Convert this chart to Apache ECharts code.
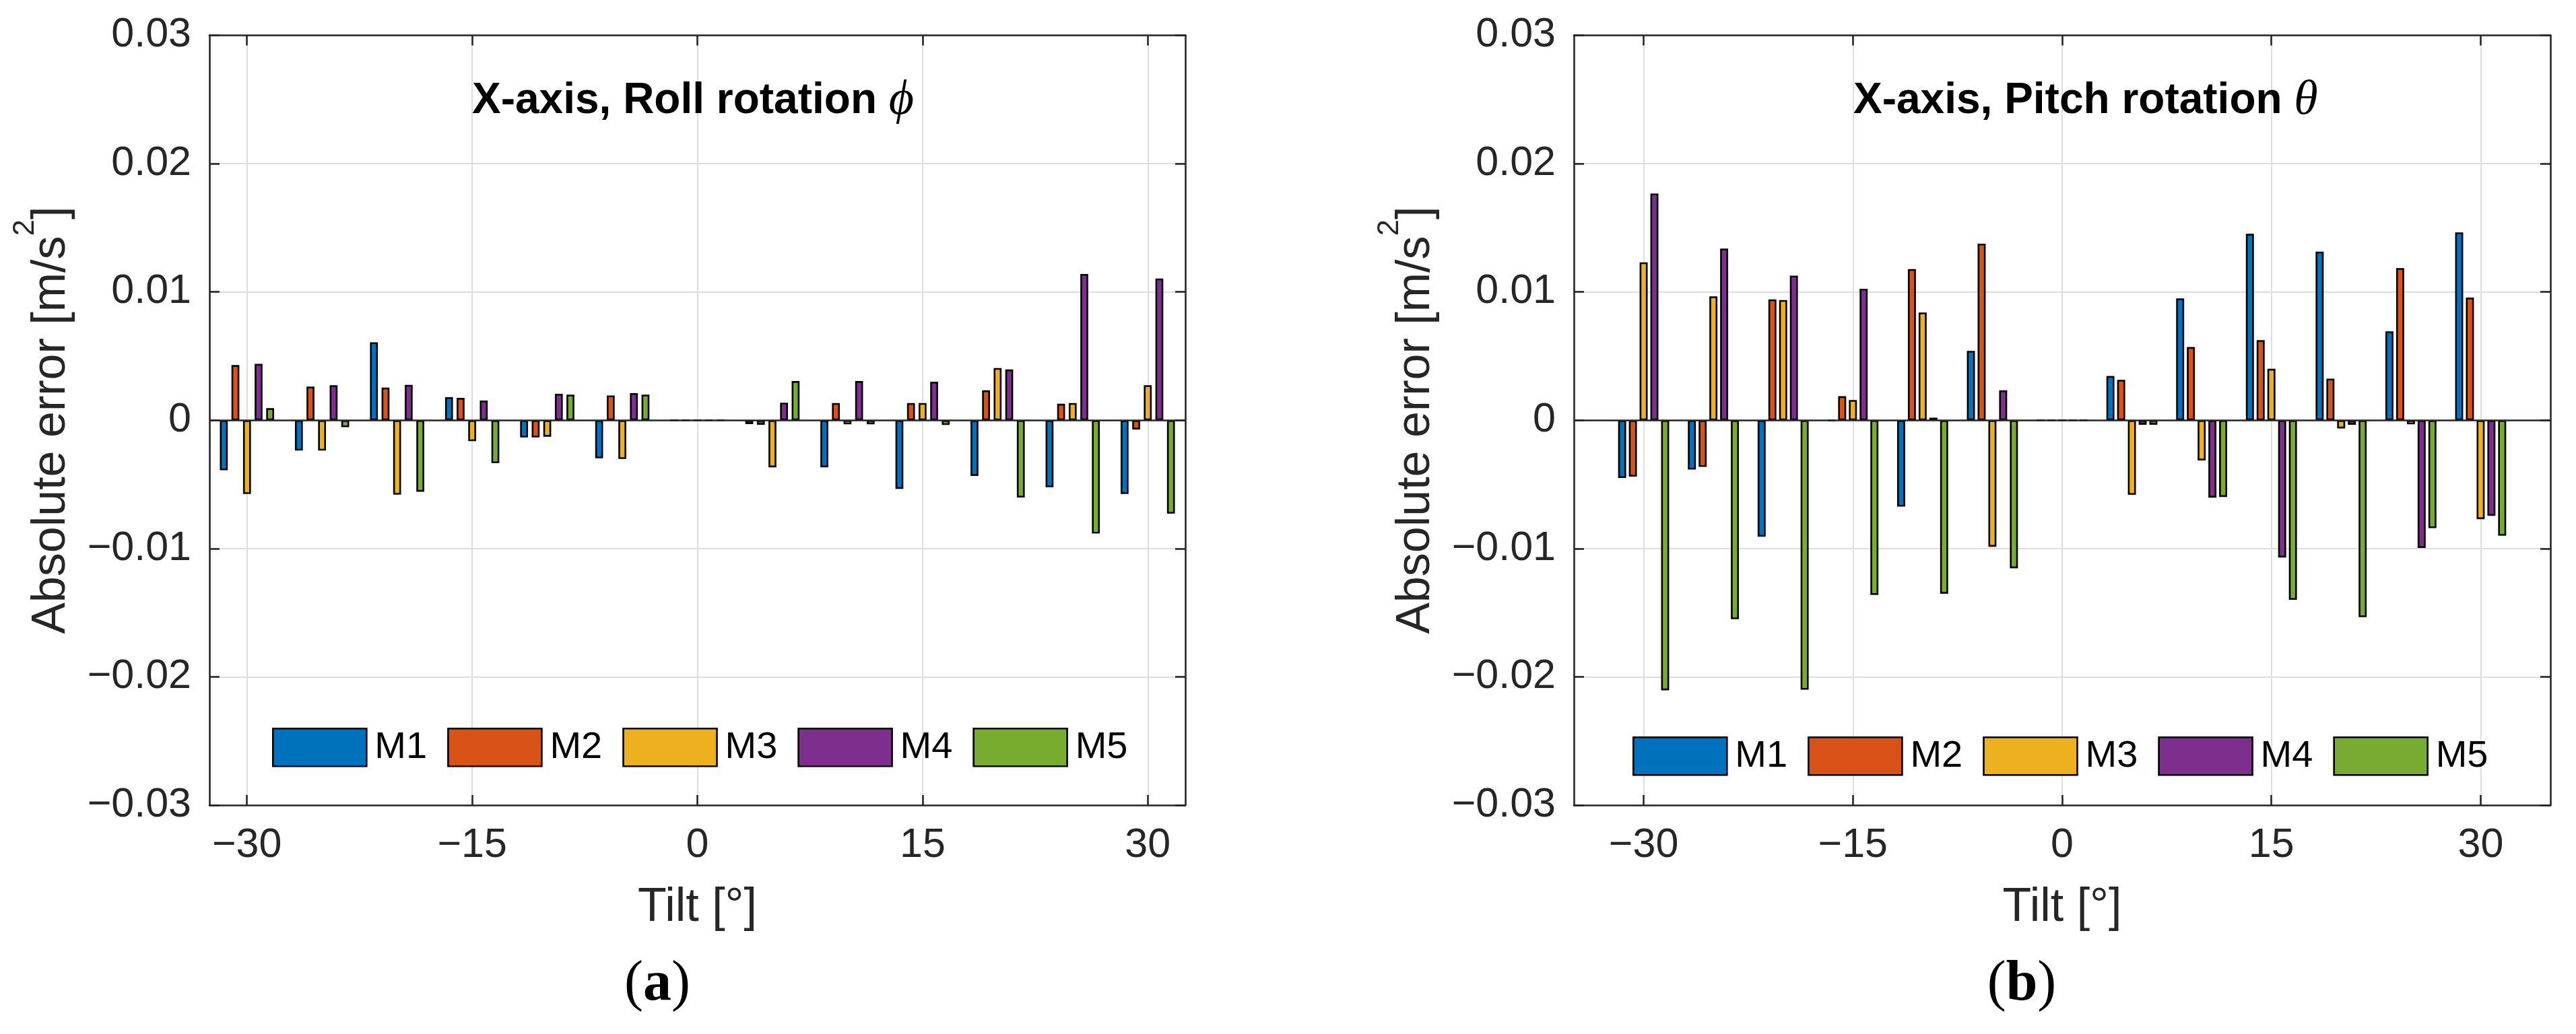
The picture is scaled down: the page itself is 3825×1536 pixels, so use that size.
<!DOCTYPE html>
<html><head><meta charset="utf-8">
<script src="https://cdn.jsdelivr.net/npm/echarts@6/dist/echarts.min.js"></script>
<style>html,body{margin:0;padding:0;background:#fff}#c{width:3825px;height:1536px}</style>
</head><body><div id="c"></div>
<script>
// ---- data ----
const seriesNames = ['M1', 'M2', 'M3', 'M4', 'M5'];
const tiltRoll = [-30, -25, -20, -15, -10, -5, 0, 5, 10, 15, 20, 25, 30];
const tiltPitch = [-30, -25, -20, -15, -10, -5, 0, 5, 10, 15, 20, 25, 30];
const xTickValues = [-30, -15, 0, 15, 30];

const rollM1 = [-0.0039, -0.00236, 0.00608, 0.0018, -0.00134, -0.00297, 0, -0.0003, -0.00367, -0.00535, -0.00434, -0.00522, -0.00575];
const rollM2 = [0.0043, 0.00262, 0.00254, 0.00174, -0.00134, 0.00193, 0, -0.00035, 0.00134, 0.00134, 0.00233, 0.00128, -0.00072];
const rollM3 = [-0.00575, -0.00236, -0.0058, -0.00163, -0.00128, -0.00302, 0, -0.00367, -0.00032, 0.00134, 0.00407, 0.00134, 0.00273];
const rollM4 = [0.0044, 0.00273, 0.00276, 0.00153, 0.00206, 0.00211, 0, 0.00137, 0.00305, 0.003, 0.00396, 0.0114, 0.01105];
const rollM5 = [0.00094, -0.00054, -0.00557, -0.00335, 0.002, 0.002, 0, 0.00305, -0.00032, -0.00037, -0.00602, -0.00883, -0.00728];

const pitchM1 = [-0.0045, -0.00385, -0.00908, -0.00005, -0.00673, 0.00541, 0, 0.00345, 0.0095, 0.01453, 0.01314, 0.00693, 0.01464];
const pitchM2 = [-0.00439, -0.00364, 0.00942, 0.00187, 0.01178, 0.01376, 0, 0.00315, 0.0057, 0.00624, 0.00324, 0.01186, 0.00956];
const pitchM3 = [0.01231, 0.00966, 0.00937, 0.00158, 0.0084, -0.00986, 0, -0.00581, -0.00313, 0.00401, -0.00064, -0.00032, -0.00771];
const pitchM4 = [0.01767, 0.01338, 0.01127, 0.01025, 0.0002, 0.00233, 0, -0.00035, -0.00603, -0.0107, -0.00035, -0.00995, -0.00745];
const pitchM5 = [-0.02105, -0.01551, -0.021, -0.01361, -0.01353, -0.01154, 0, -0.00035, -0.00598, -0.014, -0.01535, -0.00841, -0.009];

// ---- style ----
const colors = ['#0072BD', '#D95319', '#EDB120', '#7E2F8E', '#77AC30'];
const SANS = "'Liberation Sans', Arial, sans-serif";
const SERIF = "'Liberation Serif', 'DejaVu Serif', serif";
const AX = '#262626';
const GRIDC = '#dedede';

function fmtY(v) {
  if (Math.abs(v) < 1e-9) return '0';
  return (v < 0 ? '\u2212' : '') + Math.abs(v).toFixed(2);
}
function fmtX(v) {
  if (Math.abs(v) < 1e-9) return '0';
  return (v < 0 ? '\u2212' : '') + Math.abs(v);
}

const grids = [
  { left: 311, top: 52.5, width: 1449, height: 1143.5 },
  { left: 2337, top: 52.5, width: 1450, height: 1143.5 }
];
const xRanges = [[-32.5, 32.5], [-35, 35]];

const xAxes = [], yAxes = [];
[0, 1].forEach(g => {
  xAxes.push({
    gridIndex: g, type: 'value', position: 'bottom', min: xRanges[g][0], max: xRanges[g][1],
    axisLine: { show: true, onZero: false, lineStyle: { color: AX, width: 2.6 } },
    axisTick: { show: true, inside: true, length: 15, customValues: xTickValues, lineStyle: { color: AX, width: 2.6 } },
    axisLabel: { show: true, customValues: xTickValues, formatter: fmtX, fontSize: 61, fontFamily: SANS, color: AX, margin: 30 },
    splitLine: { show: true, lineStyle: { color: GRIDC, width: 2 } },
    name: 'Tilt [\u00b0]', nameLocation: 'middle', nameGap: 118,
    nameTextStyle: { fontSize: 70, fontFamily: SANS, color: AX }
  });
  xAxes.push({
    gridIndex: g, type: 'value', position: 'top', min: xRanges[g][0], max: xRanges[g][1],
    axisLine: { show: true, onZero: false, lineStyle: { color: AX, width: 2.6 } },
    axisTick: { show: true, inside: true, length: 15, customValues: xTickValues, lineStyle: { color: AX, width: 2.6 } },
    axisLabel: { show: false },
    splitLine: { show: false }
  });
  yAxes.push({
    gridIndex: g, type: 'value', position: 'left', min: -0.03, max: 0.03, interval: 0.01,
    axisLine: { show: true, onZero: false, lineStyle: { color: AX, width: 2.6 } },
    axisTick: { show: true, inside: true, length: 15, lineStyle: { color: AX, width: 2.6 } },
    axisLabel: { formatter: fmtY, fontSize: 61, fontFamily: SANS, color: AX, margin: 27 },
    splitLine: { show: true, lineStyle: { color: GRIDC, width: 2 } },
    name: '{a|Absolute error [m/s}{s|2}{a|]}', nameLocation: 'middle', nameGap: 199,
    nameTextStyle: {
      fontSize: 70, fontFamily: SANS, color: AX,
      rich: {
        a: { fontSize: 70, fontFamily: SANS, color: AX, lineHeight: 96, verticalAlign: 'bottom' },
        s: { fontSize: 44, fontFamily: SANS, color: AX, lineHeight: 96, verticalAlign: 'top' }
      }
    }
  });
  yAxes.push({
    gridIndex: g, type: 'value', position: 'right', min: -0.03, max: 0.03, interval: 0.01,
    axisLine: { show: true, onZero: false, lineStyle: { color: AX, width: 2.6 } },
    axisTick: { show: true, inside: true, length: 15, lineStyle: { color: AX, width: 2.6 } },
    axisLabel: { show: false },
    splitLine: { show: false }
  });
});

const rollData = [rollM1, rollM2, rollM3, rollM4, rollM5];
const pitchData = [pitchM1, pitchM2, pitchM3, pitchM4, pitchM5];

const series = [];
function addSeries(g, tilts, dataSets, widthPct, gapPct) {
  dataSets.forEach((vals, i) => {
    const s = {
      type: 'bar', name: seriesNames[i],
      xAxisIndex: 2 * g, yAxisIndex: 2 * g,
      data: tilts.map((t, k) => [t, vals[k]]),
      barWidth: widthPct, barGap: gapPct,
      itemStyle: { color: colors[i], borderColor: '#000', borderWidth: 2.6 },
      emphasis: { disabled: true },
      clip: true
    };
    if (i === 0) {
      s.markLine = {
        silent: true, symbol: 'none', label: { show: false },
        lineStyle: { color: AX, width: 2.6, type: 'solid' },
        data: [{ yAxis: 0 }]
      };
    }
    series.push(s);
  });
}
addSeries(0, tiltRoll, rollData, '10.5%', '47%');
addSeries(1, tiltPitch, pitchData, '11.5%', '34%');

const legendBase = {
  orient: 'horizontal', padding: 0, itemWidth: 139, itemHeight: 56, itemGap: 30,
  icon: 'rect', selectedMode: false, data: seriesNames,
  itemStyle: { borderColor: '#000', borderWidth: 2.6 },
  textStyle: { fontSize: 56, fontFamily: SANS, color: '#000', padding: [0, 0, 0, 7] }
};

const titleRich = {
  b: { fontSize: 64, fontWeight: 'bold', fontFamily: SANS, fill: '#000' },
  g: { fontSize: 72, fontStyle: 'italic', fontFamily: SERIF, fill: '#000' }
};
const labRich = {
  p: { fontSize: 84, fontFamily: SERIF, fill: '#000' },
  b: { fontSize: 84, fontFamily: SERIF, fontWeight: 'bold', fill: '#000' }
};

const option = {
  animation: false,
  backgroundColor: '#fff',
  grid: grids,
  xAxis: xAxes,
  yAxis: yAxes,
  legend: [
    Object.assign({}, legendBase, { left: 404, top: 1081 }),
    Object.assign({}, legendBase, { left: 2424, top: 1094 })
  ],
  series: series,
  graphic: [
    { type: 'text', x: 701, y: 150, z: 100,
      style: { text: '{b|X-axis, Roll rotation }{g|\u03d5}', rich: titleRich, align: 'left', verticalAlign: 'middle' } },
    { type: 'text', x: 2752, y: 150, z: 100,
      style: { text: '{b|X-axis, Pitch rotation }{g|\u03b8}', rich: titleRich, align: 'left', verticalAlign: 'middle' } },
    { type: 'text', x: 976, y: 1463,
      style: { text: '{p|(}{b|a}{p|)}', rich: labRich, align: 'center', verticalAlign: 'middle' } },
    { type: 'text', x: 3002, y: 1463,
      style: { text: '{p|(}{b|b}{p|)}', rich: labRich, align: 'center', verticalAlign: 'middle' } }
  ]
};

const chart = echarts.init(document.getElementById('c'), null, { renderer: 'canvas' });
chart.setOption(option);
</script>
</body></html>
